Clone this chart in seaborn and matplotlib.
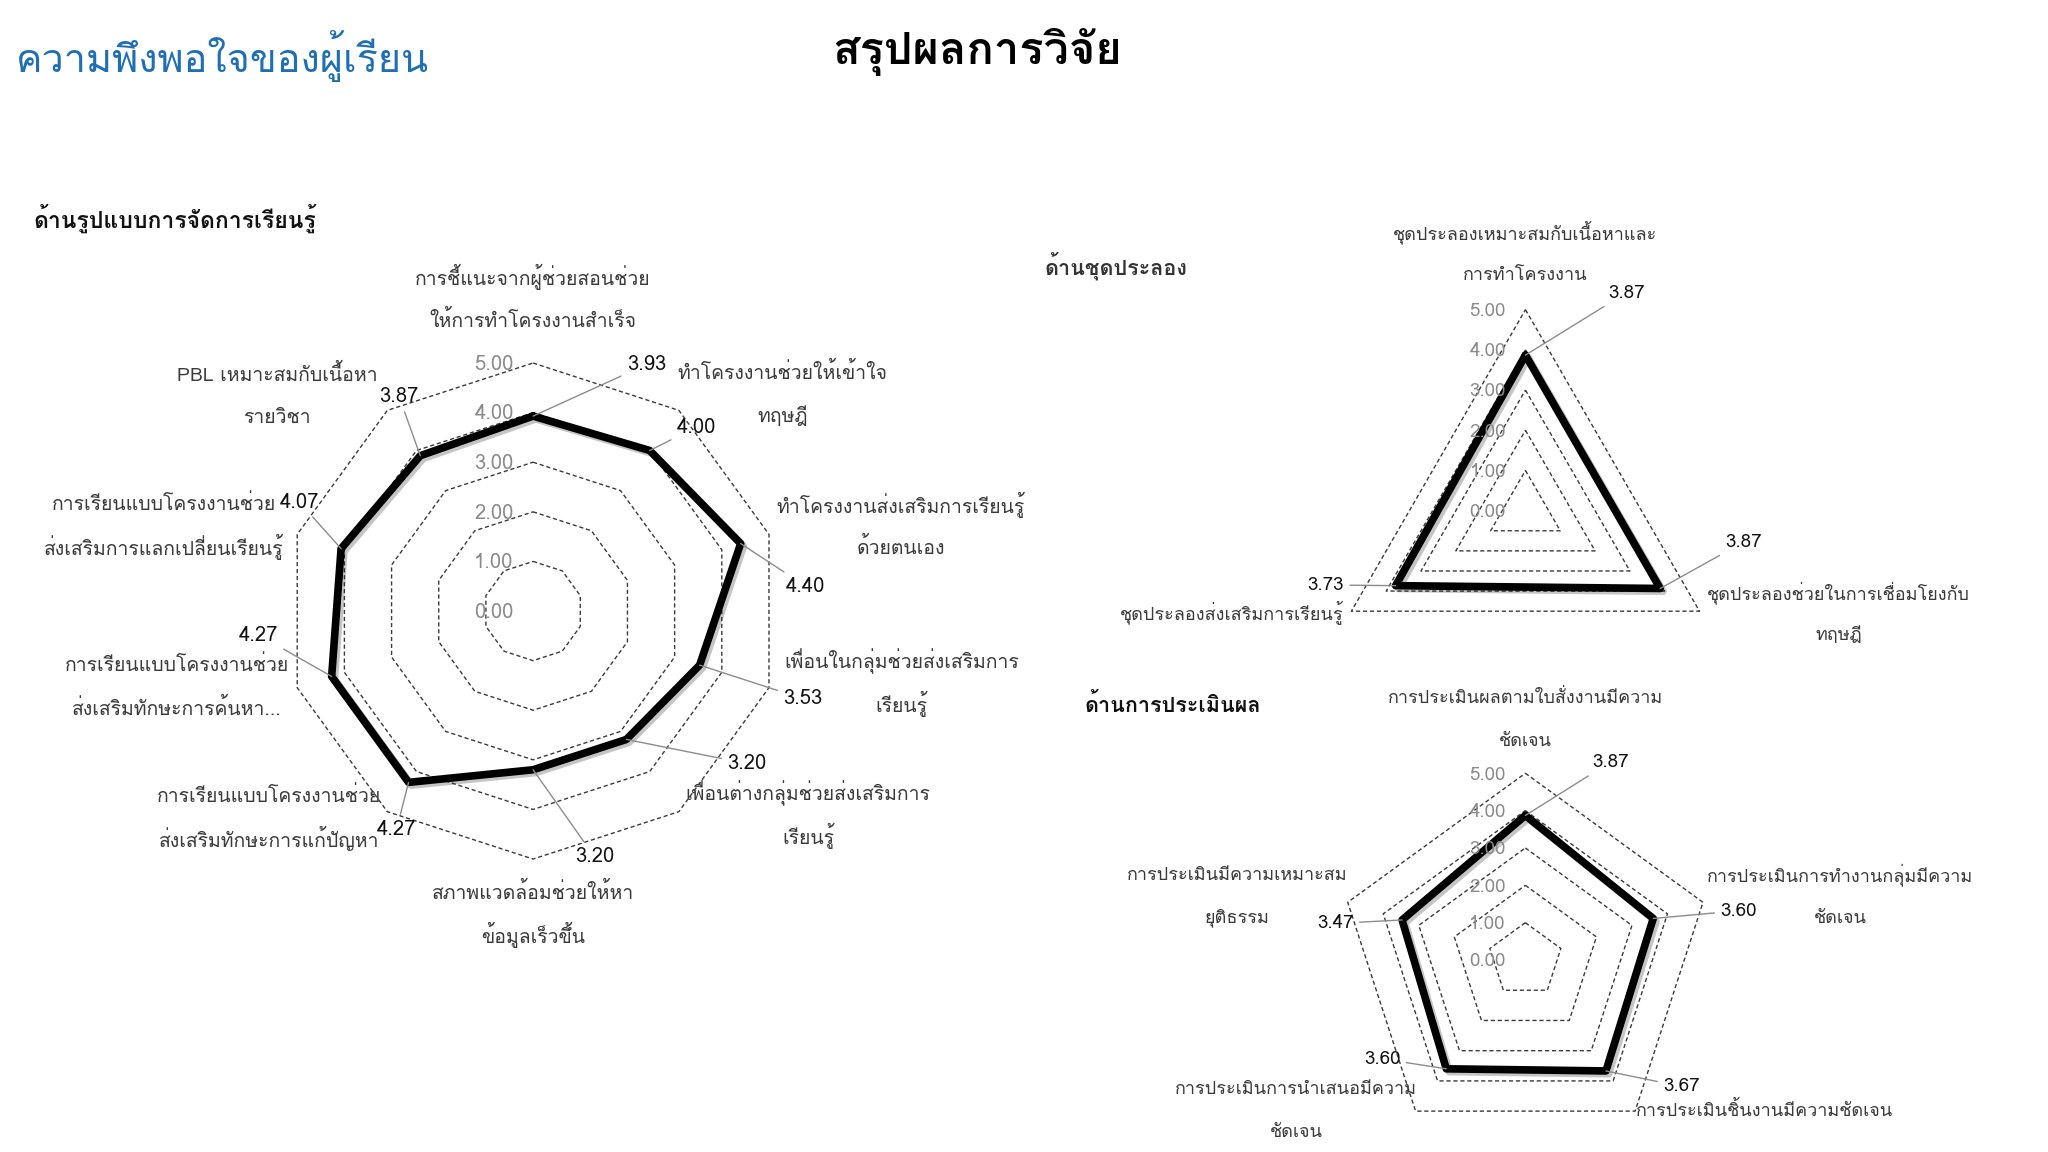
import numpy as np
import pandas as pd
import matplotlib
matplotlib.use('Agg')
import matplotlib.pyplot as plt
import matplotlib.patheffects as pe
from matplotlib import font_manager
from matplotlib.ft2font import FT2Font
import seaborn as sns

# ---- data ----
learn_cats = ['การชี้แนะจากผู้ช่วยสอนช่วย\nให้การทำโครงงานสำเร็จ',
              'ทำโครงงานช่วยให้เข้าใจ\nทฤษฎี',
              'ทำโครงงานส่งเสริมการเรียนรู้\nด้วยตนเอง',
              'เพื่อนในกลุ่มช่วยส่งเสริมการ\nเรียนรู้',
              'เพื่อนต่างกลุ่มช่วยส่งเสริมการ\nเรียนรู้',
              'สภาพแวดล้อมช่วยให้หา\nข้อมูลเร็วขึ้น',
              'การเรียนแบบโครงงานช่วย\nส่งเสริมทักษะการแก้ปัญหา',
              'การเรียนแบบโครงงานช่วย\nส่งเสริมทักษะการค้นหา...',
              'การเรียนแบบโครงงานช่วย\nส่งเสริมการแลกเปลี่ยนเรียนรู้',
              'PBL เหมาะสมกับเนื้อหา\nรายวิชา']
learn_vals = [3.93, 4.00, 4.40, 3.53, 3.20, 3.20, 4.27, 4.27, 4.07, 3.87]

kit_cats = ['ชุดประลองเหมาะสมกับเนื้อหาและ\nการทำโครงงาน',
            'ชุดประลองช่วยในการเชื่อมโยงกับ\nทฤษฎี',
            'ชุดประลองส่งเสริมการเรียนรู้']
kit_vals = [3.87, 3.87, 3.73]

eval_cats = ['การประเมินผลตามใบสั่งงานมีความ\nชัดเจน',
             'การประเมินการทำงานกลุ่มมีความ\nชัดเจน',
             'การประเมินชิ้นงานมีความชัดเจน',
             'การประเมินการนำเสนอมีความ\nชัดเจน',
             'การประเมินมีความเหมาะสม\nยุติธรรม']
eval_vals = [3.87, 3.60, 3.67, 3.60, 3.47]

levels = [0, 1, 2, 3, 4, 5]

# ---- layout (angle in degrees clockwise from top, radius in value units) ----
learn_cat_pos = [(0, 6.3), (49, 6.66), (77, 7.6), (101, 7.57), (126.5, 6.9),
                 (180, 6.1), (232, 6.75), (258, 7.34), (283, 7.64), (310, 6.74)]
learn_val_pos = [(24.7, 5.47), (41.6, 4.96), (84.8, 5.52), (108, 5.72), (125.5, 5.3),
                 (166, 5.1), (212, 5.2), (265, 5.55), (295, 5.2), (328, 5.1)]
kit_cat_pos = [(0, 6.4), (108.2, 8.2), (250.9, 7.73)]
kit_val_pos = [(24.8, 5.97), (98.2, 5.48), (249.6, 5.3)]
eval_cat_pos = [(0, 6.45), (78.6, 8.6), (122.2, 7.58), (236.6, 7.34), (282.5, 7.9)]
eval_val_pos = [(23.2, 5.76), (77, 5.86), (129, 5.38), (235.4, 4.66), (280.9, 5.18)]


def find_thai_font():
    for f in font_manager.fontManager.ttflist:
        try:
            cmap = FT2Font(f.fname).get_charmap()
        except Exception:
            continue
        if 0x0E01 in cmap and 0x0E32 in cmap and 0x0E35 in cmap:
            return f.name
    return 'DejaVu Sans'


sns.set_theme(style='white')
thai = find_thai_font()
plt.rcParams['font.family'] = [thai, 'DejaVu Sans']

fig = plt.figure(figsize=(20.48, 11.52), dpi=100)
fig.patch.set_facecolor('white')


def radar(rect, cats, vals, cat_pos, val_pos, fs=14, vfs=14):
    ax = fig.add_axes(rect, projection='polar')
    ax.set_theta_zero_location('N')
    ax.set_theta_direction(-1)
    ax.set_ylim(0, 5)
    ax.grid(False)
    ax.spines['polar'].set_visible(False)
    ax.set_xticks([])
    ax.set_yticks([])
    ax.patch.set_alpha(0)

    n = len(vals)
    theta = np.linspace(0, 2 * np.pi, n, endpoint=False)
    closed = np.append(theta, theta[0])

    for lvl in levels[1:]:
        ax.plot(closed, [lvl] * (n + 1), ls=(0, (3, 2)), color='#3a3a3a',
                lw=1.0, clip_on=False)
    for lvl in levels:
        ax.annotate(f'{lvl:.2f}', xy=(0, lvl), xytext=(-14, -1),
                    textcoords='offset points', ha='right', va='center',
                    color='#8a8a8a', fontsize=vfs)

    df = pd.DataFrame({'theta': closed, 'value': vals + vals[:1]})
    sns.lineplot(data=df, x='theta', y='value', sort=False, estimator=None,
                 ax=ax, color='black', lw=5.5, clip_on=False,
                 path_effects=[pe.SimpleLineShadow(offset=(2, -2), alpha=0.25),
                               pe.Normal()])
    ax.set_xlabel('')
    ax.set_ylabel('')

    for t, v, (a, r) in zip(theta, vals, val_pos):
        ax.annotate(f'{v:.2f}', xy=(t, v), xytext=(np.deg2rad(a), r),
                    ha='center', va='center', fontsize=vfs, color='#111111',
                    arrowprops=dict(arrowstyle='-', color='#8c8c8c', lw=1.0,
                                    shrinkA=2, shrinkB=0))
    for c, (a, r) in zip(cats, cat_pos):
        lines = c.split('\n')
        for i, line in enumerate(lines):
            dy = ((len(lines) - 1) / 2 - i) * 31
            ax.annotate(line, xy=(np.deg2rad(a), r), xytext=(0, dy),
                        textcoords='offset points', ha='center', va='center',
                        fontsize=fs, color='#3a3a3a', annotation_clip=False)
    return ax


radar([0.1392, 0.2543, 0.2422, 0.4306], learn_cats, learn_vals,
      learn_cat_pos, learn_val_pos, fs=14, vfs=14.5)
radar([0.6467, 0.3822, 0.1963, 0.3490], kit_cats, kit_vals,
      kit_cat_pos, kit_val_pos, fs=13, vfs=13.5)
radar([0.6536, 0.0045, 0.1824, 0.3243], eval_cats, eval_vals,
      eval_cat_pos, eval_val_pos, fs=13, vfs=13.5)

fig.text(16 / 2048, 1 - 56 / 1152, 'ความพึงพอใจของผู้เรียน', color='#1f6fb5',
         fontsize=28.5, va='center', ha='left')
fig.text(977 / 2048, 1 - 52 / 1152, 'สรุปผลการวิจัย', color='black',
         fontsize=32.5, fontweight='bold', va='center', ha='center')
fig.text(33 / 2048, 1 - 218 / 1152, 'ด้านรูปแบบการจัดการเรียนรู้',
         fontsize=16.5, fontweight='bold', va='center', color='#111111')
fig.text(1045 / 2048, 1 - 266 / 1152, 'ด้านชุดประลอง',
         fontsize=15.5, fontweight='bold', va='center', color='#333333')
fig.text(1084 / 2048, 1 - 705 / 1152, 'ด้านการประเมินผล',
         fontsize=15.5, fontweight='bold', va='center', color='#111111')

fig.savefig('out.png', dpi=100, facecolor='white')
